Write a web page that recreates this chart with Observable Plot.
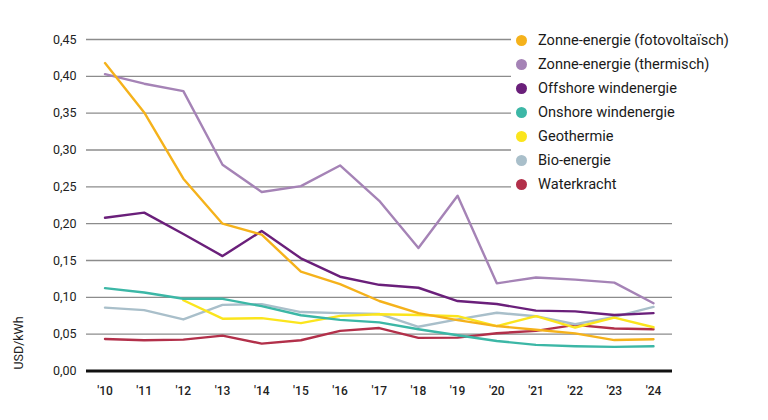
<!DOCTYPE html>
<html>
<head>
<meta charset="utf-8">
<script src="https://cdn.jsdelivr.net/npm/d3@7"></script>
<script src="https://cdn.jsdelivr.net/npm/@observablehq/plot@0.6"></script>
<style>
  html, body { margin: 0; padding: 0; background: #fff; }
  #wrap { position: relative; width: 768px; height: 420px; overflow: hidden; font-family: Roboto, "Noto Sans", sans-serif; }
  #legend { position: absolute; left: 511px; top: 28px; width: 250px; background: #fff; }
  .row { height: 24px; display: flex; align-items: center; font-size: 14.6px; color: #1a1a1a; }
  .dot { width: 11px; height: 11px; border-radius: 50%; margin-left: 5px; margin-right: 11px; flex: none; }
  #ylab { position: absolute; left: 18px; top: 343px; transform: translate(-50%, -50%) rotate(-90deg); font-size: 12.5px; color: #222; white-space: nowrap; }
</style>
</head>
<body>
<div id="wrap"><div id="legend"></div><div id="ylab">USD/kWh</div></div>
<script>
const years = [2010, 2011, 2012, 2013, 2014, 2015, 2016, 2017, 2018, 2019, 2020, 2021, 2022, 2023, 2024];
const seriesNames = [
  "Zonne-energie (fotovoltaïsch)",
  "Zonne-energie (thermisch)",
  "Offshore windenergie",
  "Onshore windenergie",
  "Geothermie",
  "Bio-energie",
  "Waterkracht"
];
const seriesColors = ["#f5b21b", "#a583b6", "#6a1f7a", "#3cb7a6", "#fbe51d", "#a9bfca", "#b2304a"];
const zonnePV = [0.418, 0.351, 0.261, 0.200, 0.185, 0.135, 0.118, 0.095, 0.0785, 0.069, 0.061, 0.056, 0.051, 0.042, 0.043];
const zonneThermisch = [0.403, 0.390, 0.380, 0.280, 0.243, 0.251, 0.279, 0.231, 0.167, 0.238, 0.119, 0.127, 0.124, 0.120, 0.092];
const offshore = [0.208, 0.215, 0.186, 0.156, 0.190, 0.153, 0.128, 0.117, 0.113, 0.095, 0.091, 0.082, 0.081, 0.076, 0.0785];
const onshore = [0.1125, 0.1066, 0.098, 0.098, 0.088, 0.0757, 0.0694, 0.066, 0.0567, 0.0485, 0.0408, 0.0354, 0.0336, 0.0327, 0.0336];
const geothermie = [null, null, 0.096, 0.071, 0.0718, 0.065, 0.0748, 0.077, 0.076, 0.0744, 0.061, 0.0744, 0.059, 0.0725, 0.0594];
const bioEnergie = [0.086, 0.0826, 0.070, 0.0898, 0.0907, 0.080, 0.0785, 0.0775, 0.060, 0.070, 0.079, 0.0744, 0.0635, 0.0735, 0.087];
const waterkracht = [0.0435, 0.0417, 0.0426, 0.048, 0.0372, 0.0417, 0.0544, 0.0583, 0.0449, 0.0453, 0.0513, 0.0544, 0.0626, 0.0576, 0.0567];
const yTicks = [0, 0.05, 0.10, 0.15, 0.20, 0.25, 0.30, 0.35, 0.40, 0.45];

const allValues = [zonnePV, zonneThermisch, offshore, onshore, geothermie, bioEnergie, waterkracht];
const rows = [];
allValues.forEach((vals, i) => {
  vals.forEach((v, j) => rows.push({ series: seriesNames[i], year: years[j], value: v }));
});
const drawOrder = [6, 5, 4, 3, 2, 1, 0];
const ordered = drawOrder.flatMap(i => rows.filter(r => r.series === seriesNames[i]));

const gridTicks = yTicks.filter(t => t > 0);

const chart = Plot.plot({
  width: 768,
  height: 420,
  marginLeft: 86,
  marginRight: 96,
  marginTop: 39,
  marginBottom: 49.5,
  style: { fontFamily: "Roboto, 'Noto Sans', sans-serif", fontSize: "12px", color: "#222", background: "transparent" },
  x: { domain: [2010, 2024], insetLeft: 18.5, insetRight: 19 },
  y: { domain: [0, 0.45] },
  color: { domain: seriesNames, range: seriesColors },
  marks: [
    Plot.ruleY(gridTicks, { stroke: "#8c8c8c", strokeWidth: 1.4 }),
    Plot.ruleY([0], { stroke: "#111", strokeWidth: 3 }),
    Plot.line(ordered, {
      x: "year", y: "value", z: "series", stroke: "series",
      strokeWidth: 2.4, strokeLinejoin: "round", strokeLinecap: "round"
    }),
    Plot.axisY({
      ticks: yTicks, tickSize: 0, tickPadding: 10, label: null,
      tickFormat: d => d.toFixed(2).replace(".", ","), fontSize: 12.5
    }),
    Plot.axisX({
      ticks: years, tickSize: 0, tickPadding: 15, label: null,
      tickFormat: d => "'" + String(d).slice(2), fontSize: 12, fontWeight: 500
    })
  ]
});

const wrap = document.getElementById("wrap");
wrap.insertBefore(chart, wrap.firstChild);
chart.style.position = "absolute";
chart.style.left = "0";
chart.style.top = "0";

const legend = document.getElementById("legend");
seriesNames.forEach((name, i) => {
  const row = document.createElement("div");
  row.className = "row";
  const dot = document.createElement("span");
  dot.className = "dot";
  dot.style.background = seriesColors[i];
  const label = document.createElement("span");
  label.textContent = name;
  row.appendChild(dot);
  row.appendChild(label);
  legend.appendChild(row);
});
</script>
</body>
</html>
